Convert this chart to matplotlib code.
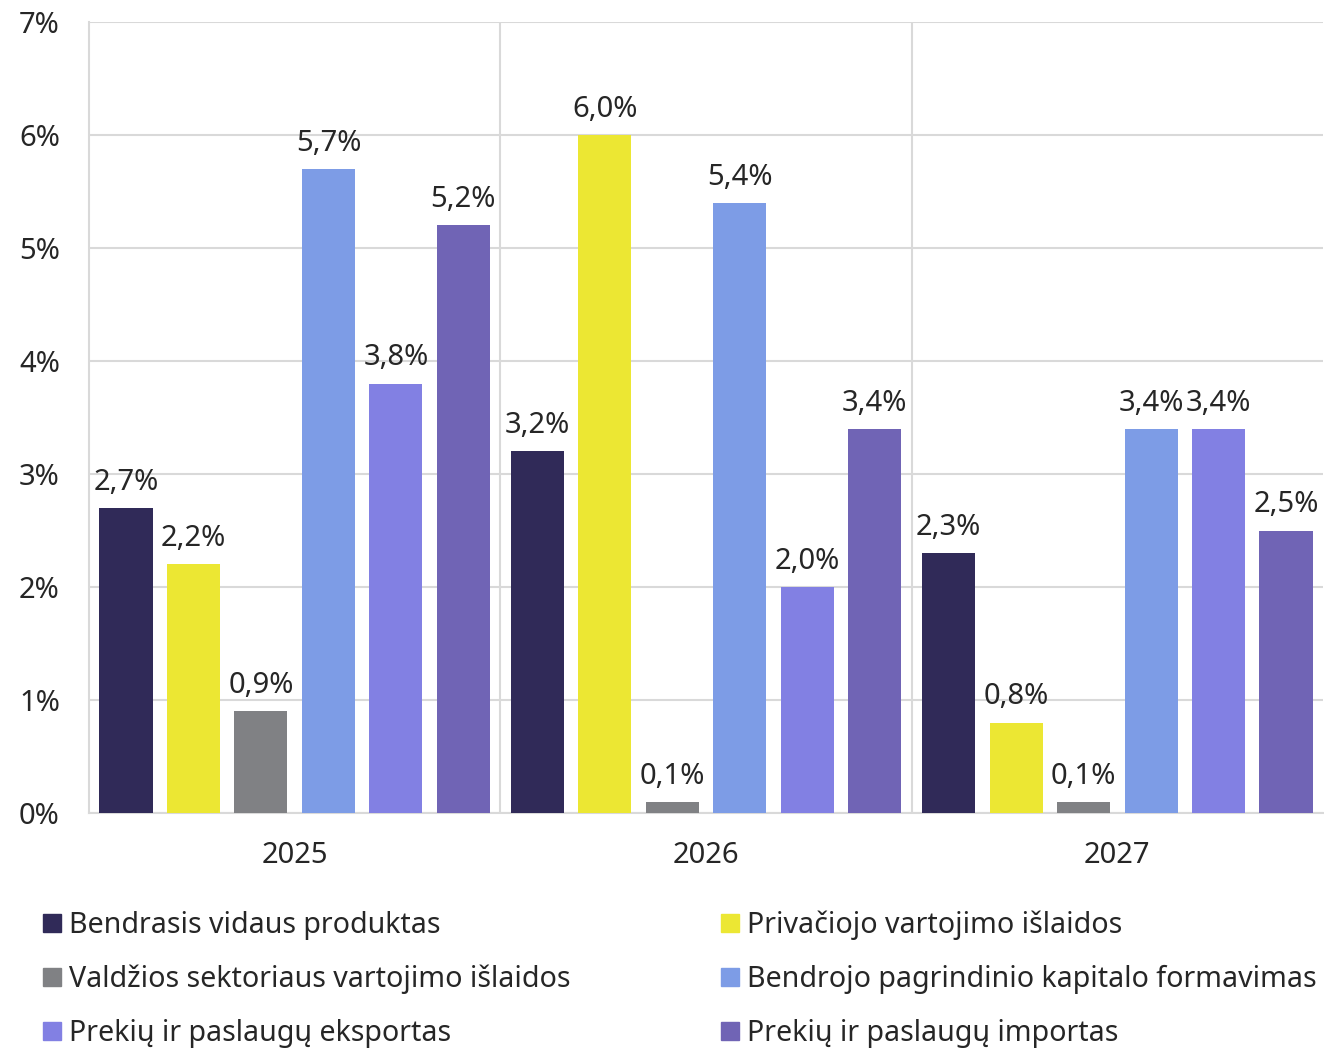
import numpy as np
import matplotlib.pyplot as plt
from matplotlib.patches import Rectangle

plt.rcParams['font.family'] = ['Noto Sans', 'DejaVu Sans']

years = ['2025', '2026', '2027']
series = ['Bendrasis vidaus produktas',
          'Privačiojo vartojimo išlaidos',
          'Valdžios sektoriaus vartojimo išlaidos',
          'Bendrojo pagrindinio kapitalo formavimas',
          'Prekių ir paslaugų eksportas',
          'Prekių ir paslaugų importas']
colors = ['#302a58', '#ece733', '#808184', '#7d9ce6', '#8280e3', '#7064b5']

bvp = [2.7, 3.2, 2.3]
privatus = [2.2, 6.0, 0.8]
valdzia = [0.9, 0.1, 0.1]
investicijos = [5.7, 5.4, 3.4]
eksportas = [3.8, 2.0, 3.4]
importas = [5.2, 3.4, 2.5]
values = [bvp, privatus, valdzia, investicijos, eksportas, importas]

fs = 21
leg_fs = 20.6
grid_c = '#d9d9d9'

fig = plt.figure(figsize=(13.24, 10.48), dpi=100)
ax = fig.add_axes([89/1324, 1 - 813/1048, 1 - 89/1324 - 1/1324, (813 - 22)/1048])

x = np.arange(len(years))
step = 0.164
width = 0.129
for i, (vals, c) in enumerate(zip(values, colors)):
    pos = x + (i - 2.5) * step
    bars = ax.bar(pos, vals, width, color=c, zorder=3)
    for b, v in zip(bars, vals):
        ax.annotate(f'{v:.1f}%'.replace('.', ','),
                    (b.get_x() + b.get_width() / 2, v),
                    xytext=(0, 8), textcoords='offset points',
                    ha='center', va='bottom', fontsize=fs, color='#262626')

ax.set_xlim(-0.5, 2.5)
ax.set_ylim(0, 7)
ax.set_yticks(range(0, 8))
ax.set_yticklabels([f'{t}%' for t in range(0, 8)])
ax.set_xticks(x)
ax.set_xticklabels(years)
ax.tick_params(axis='both', length=0, labelsize=fs, colors='#262626')
ax.tick_params(axis='y', pad=21)
ax.tick_params(axis='x', pad=20)
ax.grid(axis='y', color=grid_c, lw=1.5, zorder=0)
for xv in [0.5, 1.5]:
    ax.axvline(xv, color=grid_c, lw=1.5, zorder=0)
for s in ['top', 'right']:
    ax.spines[s].set_visible(False)
for s in ['left', 'bottom']:
    ax.spines[s].set_color(grid_c)
    ax.spines[s].set_linewidth(1.5)

# legend, 2 columns
col_x = [43, 721]
row_y = [923, 977, 1031]
for i, (name, c) in enumerate(zip(series, colors)):
    px = col_x[i % 2]
    py = row_y[i // 2]
    fig.patches.append(Rectangle((px / 1324, 1 - (py + 9) / 1048), 18 / 1324, 18 / 1048,
                                 transform=fig.transFigure, color=c))
    fig.text((px + 26) / 1324, 1 - (py + 2) / 1048, name, fontsize=leg_fs,
             ha='left', va='center', color='#262626')

fig.savefig('out.png', dpi=100)
